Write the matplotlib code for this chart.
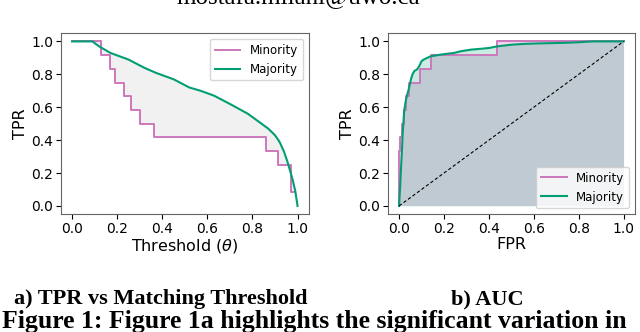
import numpy as np
import matplotlib
matplotlib.use("Agg")
import matplotlib.pyplot as plt

# --- data ---
# (a) TPR vs matching threshold
thr_majority = [0.0, 0.09, 0.12, 0.17, 0.25, 0.32, 0.37, 0.45, 0.52, 0.57, 0.63,
                0.70, 0.74, 0.78, 0.81, 0.84, 0.87, 0.90, 0.92, 0.94, 0.955,
                0.97, 0.98, 0.99, 1.0]
tpr_majority = [1.0, 1.0, 0.97, 0.93, 0.89, 0.84, 0.81, 0.77, 0.72, 0.70, 0.67,
                0.62, 0.59, 0.56, 0.53, 0.50, 0.47, 0.43, 0.39, 0.33, 0.27,
                0.20, 0.15, 0.09, 0.0]
thr_minority = [0.0, 0.13, 0.17, 0.19, 0.23, 0.26, 0.30, 0.365, 0.86, 0.915,
                0.97, 0.99]
tpr_minority = [1.0, 0.917, 0.833, 0.75, 0.667, 0.583, 0.5, 0.417, 0.333, 0.25,
                0.083, 0.083]

# (b) ROC curves
fpr_minority = [0.0, 0.0, 0.004, 0.004, 0.012, 0.012, 0.02, 0.02, 0.03, 0.03,
                0.046, 0.046, 0.094, 0.094, 0.142, 0.142, 0.437, 0.437, 1.0]
roc_minority = [0.0, 0.333, 0.333, 0.417, 0.417, 0.5, 0.5, 0.583, 0.583, 0.667,
                0.667, 0.75, 0.75, 0.833, 0.833, 0.917, 0.917, 1.0, 1.0]
fpr_majority = [0.0, 0.005, 0.009, 0.013, 0.016, 0.020, 0.023, 0.030, 0.035,
                0.045, 0.053, 0.060, 0.068, 0.080, 0.090, 0.100, 0.110, 0.125,
                0.142, 0.165, 0.186, 0.215, 0.245, 0.274, 0.32, 0.363, 0.40,
                0.437, 0.50, 0.555, 0.62, 0.69, 0.75, 0.80, 0.863, 0.93, 1.0]
roc_majority = [0.0, 0.12, 0.24, 0.34, 0.44, 0.52, 0.58, 0.64, 0.67, 0.72, 0.77,
                0.80, 0.82, 0.83, 0.85, 0.88, 0.89, 0.90, 0.91, 0.915, 0.92,
                0.925, 0.93, 0.94, 0.95, 0.955, 0.96, 0.97, 0.98, 0.985, 0.988,
                0.99, 0.992, 0.995, 1.0, 1.0, 1.0]

PINK = "#cc78bc"
GREEN = "#029e73"

fig = plt.figure(figsize=(6.4, 3.32), dpi=100)
ax1 = fig.add_axes([0.095, 0.355, 0.3875, 0.545])
ax2 = fig.add_axes([0.606, 0.355, 0.386, 0.545])

# step vertices of the minority curve, used for the shaded gap
sx, sy = [], []
for i in range(len(thr_minority)):
    sx.append(thr_minority[i]); sy.append(tpr_minority[i])
    if i + 1 < len(thr_minority):
        sx.append(thr_minority[i + 1]); sy.append(tpr_minority[i])
poly_x = list(thr_majority) + sx[::-1]
poly_y = list(tpr_majority) + sy[::-1]
ax1.fill(poly_x, poly_y, color="lightgrey", alpha=0.3, lw=0)
ax1.step(thr_minority, tpr_minority, where="post", color=PINK, lw=1.4, label="Minority")
ax1.plot(thr_majority, tpr_majority, color=GREEN, lw=1.5, label="Majority")
ax1.set_xlabel(r"Threshold ($\theta$)", fontsize=11.5, labelpad=1)
ax1.set_ylabel("TPR", fontsize=11.5, labelpad=2)
ax1.legend(loc="upper right", fontsize=8.5, handlelength=2.2)

ax2.fill_between(fpr_minority, roc_minority, color=PINK, alpha=0.3, lw=0)
ax2.fill_between(fpr_majority, roc_majority, color=GREEN, alpha=0.2, lw=0)
ax2.plot(fpr_minority, roc_minority, color=PINK, lw=1.4, label="Minority")
ax2.plot(fpr_majority, roc_majority, color=GREEN, lw=1.5, label="Majority")
ax2.plot([0, 1], [0, 1], color="k", ls=(0, (3, 2)), lw=0.8)
ax2.set_xlabel("FPR", fontsize=11.5, labelpad=1)
ax2.set_ylabel("TPR", fontsize=11.5, labelpad=2)
ax2.legend(loc="lower right", fontsize=8.5, handlelength=2.2)

ticks = [0.0, 0.2, 0.4, 0.6, 0.8, 1.0]
for ax in (ax1, ax2):
    ax.set_xticks(ticks)
    ax.set_yticks(ticks)
    ax.tick_params(labelsize=10, length=3.5, pad=2)
    for s in ax.spines.values():
        s.set_color("0.4")

serif = "Liberation Serif"
fig.text(0.466, 1 - 4 / 332, "mostafa.milani@uwo.ca", family=serif, fontsize=18,
         ha="center", va="baseline")
fig.text(14 / 640, 1 - 304 / 332, "a) TPR vs Matching Threshold", family=serif,
         fontsize=16, weight="bold", va="baseline")
fig.text(451 / 640, 1 - 304 / 332, "b) AUC", family=serif, fontsize=16,
         weight="bold", va="baseline")
fig.text(2 / 640, 1 - 328 / 332,
         "Figure 1: Figure 1a highlights the significant variation in",
         family=serif, fontsize=18.5, weight="bold", va="baseline")

fig.savefig("out.png", dpi=100)
